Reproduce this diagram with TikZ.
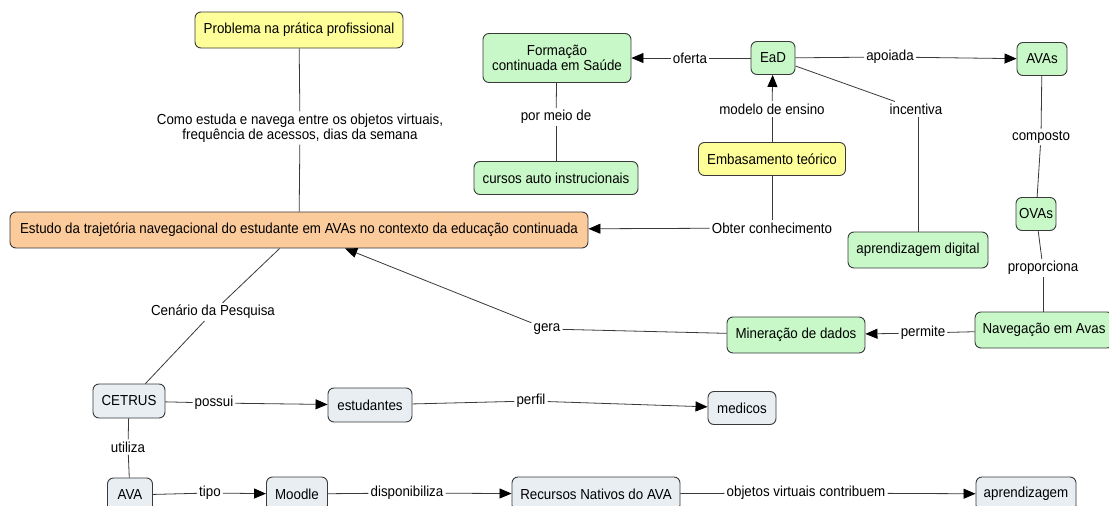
\documentclass[tikz,border=0pt]{standalone}
\usepackage{fontspec}
\setmainfont[FakeStretch=0.92]{Liberation Sans}
\usetikzlibrary{arrows.meta}
\definecolor{cyel}{HTML}{FFFF99}
\definecolor{cgrn}{HTML}{C8F8C8}
\definecolor{corg}{HTML}{FCCB9C}
\definecolor{cgry}{HTML}{E8EEF2}
\definecolor{cline}{HTML}{3A3A3A}
\tikzset{
  txt/.style={font=\fontsize{14.5}{15.5}\selectfont},
  box/.style={txt, draw=cline, line width=0.9pt, rounded corners=6pt, align=center, inner sep=2pt},
  yel/.style={box, fill=cyel},
  grn/.style={box, fill=cgrn},
  org/.style={box, fill=corg},
  gry/.style={box, fill=cgry},
  lab/.style={txt, inner sep=2pt, align=center},
  conn/.style={draw=cline, line width=0.8pt},
  arr/.style={conn, -{Triangle[length=12pt,width=10pt,color=black]}},
}
\begin{document}
\begin{tikzpicture}[x=1pt,y=-1pt]
\useasboundingbox[fill=white] (0,0) rectangle (1109,506);
\clip (0,0) rectangle (1109,506);
% concept nodes
\node[yel, minimum width=208pt, minimum height=36pt] (prob) at (299,30) {Problema na prática profissional};
\node[grn, minimum width=148pt, minimum height=49pt] (form) at (557,58) {Formação\\continuada em Saúde};
\node[grn, minimum width=44pt, minimum height=33pt] (ead) at (773,58) {EaD};
\node[grn, minimum width=50pt, minimum height=33pt] (avas) at (1042,59) {AVAs};
\node[grn, minimum width=164pt, minimum height=33pt] (cursos) at (556,178) {cursos auto instrucionais};
\node[yel, minimum width=147pt, minimum height=33pt] (emb) at (772,159) {Embasamento teórico};
\node[org, minimum width=578pt, minimum height=36pt] (estudo) at (299,230) {Estudo da trajetória navegacional do estudante em AVAs no contexto da educação continuada};
\node[grn, minimum width=140pt, minimum height=36pt] (apd) at (918,250) {aprendizagem digital};
\node[grn, minimum width=40pt, minimum height=33pt] (ovas) at (1036,214) {OVAs};
\node[grn, minimum width=138pt, minimum height=36pt] (nav) at (1044,330) {Navegação em Avas};
\node[grn, minimum width=138pt, minimum height=36pt] (mine) at (796,335) {Mineração de dados};
\node[gry, minimum width=72pt, minimum height=34pt] (cetrus) at (129,401) {CETRUS};
\node[gry, minimum width=84pt, minimum height=34pt] (estud) at (370,405) {estudantes};
\node[gry, minimum width=68pt, minimum height=33pt] (medicos) at (742,408) {medicos};
\node[gry, minimum width=45pt, minimum height=34pt] (ava) at (130,495) {AVA};
\node[gry, minimum width=61pt, minimum height=34pt] (moodle) at (297,494) {Moodle};
\node[gry, minimum width=168pt, minimum height=34pt] (recursos) at (596,494) {Recursos Nativos do AVA};
\node[gry, minimum width=100pt, minimum height=34pt] (aprend) at (1026,494) {aprendizagem};
% linking phrases
\node[lab] (l1) at (300,128) {Como estuda e navega entre os objetos virtuais,\\frequência de acessos, dias da semana};
\node[lab] (loferta) at (690,58) {oferta};
\node[lab] (lapoiada) at (890,57) {apoiada};
\node[lab] (lpormeio) at (556,117) {por meio de};
\node[lab] (lmodelo) at (772,109) {modelo de ensino};
\node[lab] (lincent) at (916,109) {incentiva};
\node[lab] (lobter) at (772,228) {Obter conhecimento};
\node[lab] (lcomp) at (1041,137) {composto};
\node[lab] (lprop) at (1043,268) {proporciona};
\node[lab] (lpermite) at (923,333) {permite};
\node[lab] (lgera) at (547,329) {gera};
\node[lab] (lcen) at (213,312) {Cenário da Pesquisa};
\node[lab] (lpossui) at (214,403) {possui};
\node[lab] (lperfil) at (531,401) {perfil};
\node[lab] (lutil) at (128,447) {utiliza};
\node[lab] (ltipo) at (210,493) {tipo};
\node[lab] (ldisp) at (407,493) {disponibiliza};
\node[lab] (lobj) at (806,493) {objetos virtuais contribuem};
% connectors
\draw[conn] (prob) -- (l1); \draw[conn] (l1) -- (estudo);
\draw[conn] (ead) -- (loferta); \draw[arr] (loferta) -- (form);
\draw[conn] (ead) -- (lapoiada); \draw[arr] (lapoiada) -- (avas);
\draw[conn] (form) -- (lpormeio); \draw[conn] (lpormeio) -- (cursos);
\draw[conn] (emb) -- (lmodelo); \draw[arr] (lmodelo) -- (ead);
\draw[conn] (ead) -- (lincent); \draw[conn] (lincent.south -| apd.north) -- (apd.north);
\draw[conn] (emb) -- (lobter); \draw[arr] (lobter) -- (estudo);
\draw[conn] (avas) -- (lcomp); \draw[conn] (lcomp) -- (ovas);
\draw[conn] (ovas) -- (lprop); \draw[conn] (lprop.south) -- (lprop.south |- nav.north);
\draw[conn] (nav) -- (lpermite); \draw[arr] (lpermite) -- (mine);
\draw[conn] (mine) -- (lgera); \draw[arr] (lgera) -- (estudo);
\draw[conn] (estudo) -- (lcen); \draw[conn] (lcen) -- (cetrus);
\draw[conn] (cetrus) -- (lpossui); \draw[arr] (lpossui) -- (estud);
\draw[conn] (estud) -- (lperfil); \draw[arr] (lperfil) -- (medicos);
\draw[conn] (cetrus) -- (lutil); \draw[conn] (lutil) -- (ava);
\draw[conn] (ava) -- (ltipo); \draw[arr] (ltipo) -- (moodle);
\draw[conn] (moodle) -- (ldisp); \draw[arr] (ldisp) -- (recursos);
\draw[conn] (recursos) -- (lobj); \draw[arr] (lobj) -- (aprend);
\end{tikzpicture}
\end{document}
